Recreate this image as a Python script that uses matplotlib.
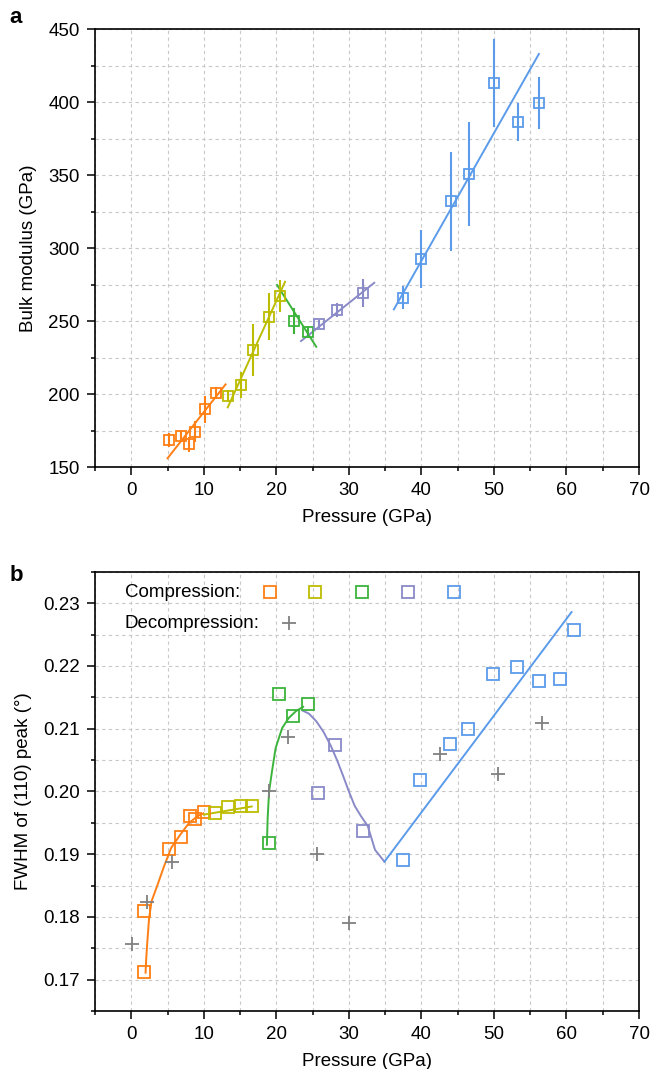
import matplotlib
matplotlib.use("Agg")
import matplotlib.pyplot as plt
from matplotlib.ticker import MultipleLocator, FormatStrFormatter

plt.rcParams['font.family'] = ['Liberation Sans', 'DejaVu Sans']

# ---------------- colours ----------------
C_OR = '#ff7f14'
C_YE = '#bcbc00'
C_GR = '#3cb43c'
C_PU = '#8a8ac8'
C_BL = '#5b9bea'
C_DE = '#808080'

# ---------------- panel a data ----------------
a_or_x = [5.2, 6.9, 8.0, 8.8, 10.1, 11.7]
a_or_y = [168.5, 171.2, 165.5, 174.2, 189.5, 200.5]
a_or_e = [5, 4, 5, 7, 9.5, 4]
a_or_fit_x = [5.0, 13.0]
a_or_fit_y = [156.0, 206.6]

a_ye_x = [13.3, 15.1, 16.8, 19.0, 20.5]
a_ye_y = [198.8, 206.2, 230.1, 253.0, 267.3]
a_ye_e = [4, 9, 18, 16, 11]
a_ye_fit_x = [13.3, 21.2]
a_ye_fit_y = [190.9, 276.9]

a_gr_x = [22.4, 24.4]
a_gr_y = [250.2, 242.7]
a_gr_e = [9, 4]
a_gr_fit_x = [20.1, 25.5]
a_gr_fit_y = [274.7, 232.4]

a_pu_x = [25.9, 28.3, 32.0]
a_pu_y = [248.0, 257.5, 269.0]
a_pu_e = [3, 5, 9.7]
a_pu_fit_x = [23.4, 33.5]
a_pu_fit_y = [236.3, 276.2]

a_bl_x = [37.5, 39.9, 44.1, 46.5, 50.0, 53.3, 56.2]
a_bl_y = [266.0, 292.5, 332.0, 350.6, 413.1, 386.2, 399.4]
a_bl_e = [8, 19.6, 34, 35.7, 30, 13, 18]
a_bl_fit_x = [36.2, 56.2]
a_bl_fit_y = [258.0, 433.0]

# ---------------- panel b data ----------------
b_or_x = [1.7, 1.7, 5.2, 6.9, 8.1, 8.8, 10.0]
b_or_y = [0.1712, 0.1809, 0.1909, 0.1928, 0.1961, 0.1956, 0.1967]
b_or_fit_x = [1.97, 2.07, 2.22, 2.46, 2.8, 3.65, 4.53, 5.5, 6.75, 7.98, 9.2, 9.95]
b_or_fit_y = [0.1711, 0.1735, 0.1761, 0.1798, 0.1825, 0.1852, 0.1881, 0.1910,
              0.1931, 0.1950, 0.1961, 0.1965]

b_ye_x = [11.5, 13.3, 15.1, 16.6]
b_ye_y = [0.1965, 0.1975, 0.1977, 0.1976]
b_ye_fit_x = [10.0, 16.6]
b_ye_fit_y = [0.1963, 0.1976]

b_gr_x = [19.0, 20.4, 22.3, 24.3]
b_gr_y = [0.1918, 0.2155, 0.2121, 0.2139]
b_gr_fit_x = [18.7, 18.8, 19.0, 19.4, 19.9, 20.8, 21.7, 22.7, 23.7]
b_gr_fit_y = [0.1915, 0.1957, 0.2000, 0.2032, 0.2069, 0.2101, 0.2117, 0.2128, 0.2135]

b_pu_x = [25.8, 28.1, 32.0]
b_pu_y = [0.1998, 0.2074, 0.1937]
b_pu_fit_x = [23.6, 24.5, 25.5, 26.5, 27.5, 28.4, 29.2, 30.0, 30.8, 31.7,
              32.6, 33.6, 34.9]
b_pu_fit_y = [0.2129, 0.2124, 0.2112, 0.2095, 0.2073, 0.2049, 0.2025, 0.2000,
              0.1977, 0.1960, 0.1945, 0.1907, 0.1888]

b_bl_x = [37.4, 39.8, 44.0, 46.4, 49.9, 53.2, 56.2, 59.1, 61.0]
b_bl_y = [0.1891, 0.2018, 0.2075, 0.2100, 0.2187, 0.2199, 0.2176, 0.2180, 0.2258]
b_bl_fit_x = [34.9, 60.7]
b_bl_fit_y = [0.1888, 0.2286]

b_de_x = [0.1, 2.2, 5.6, 19.0, 21.6, 25.6, 30.0, 42.6, 50.5, 56.6]
b_de_y = [0.1757, 0.1823, 0.1887, 0.2000, 0.2086, 0.1900, 0.1790, 0.2060, 0.2027, 0.2109]

# ---------------- figure ----------------
fig = plt.figure(figsize=(6.52, 10.69), dpi=100)
ax1 = fig.add_axes([0.1457, 0.5631, 0.8344, 0.4097])
ax2 = fig.add_axes([0.1457, 0.0543, 0.8344, 0.4107])

FS = 13.5
MS = 7.8
MEW = 1.3
LW = 1.4


def style(ax, ymaj, ymin):
    ax.set_xlim(-5, 70)
    ax.xaxis.set_major_locator(MultipleLocator(10))
    ax.xaxis.set_minor_locator(MultipleLocator(5))
    ax.yaxis.set_major_locator(MultipleLocator(ymaj))
    ax.yaxis.set_minor_locator(MultipleLocator(ymin))
    ax.tick_params(which='major', direction='out', length=6, width=1.1,
                   labelsize=FS, pad=5, top=False, right=False)
    ax.tick_params(which='minor', direction='out', length=3, width=1.1,
                   top=False, right=False)
    ax.grid(which='both', color='#c8c8c8', linestyle=(0, (3, 3)), linewidth=0.8)
    ax.set_axisbelow(True)
    for s in ax.spines.values():
        s.set_linewidth(1.2)
        s.set_color('black')
    ax.set_xlabel('Pressure (GPa)', fontsize=FS, labelpad=7)


# panel a
series_a = [
    (a_or_x, a_or_y, a_or_e, a_or_fit_x, a_or_fit_y, C_OR),
    (a_ye_x, a_ye_y, a_ye_e, a_ye_fit_x, a_ye_fit_y, C_YE),
    (a_gr_x, a_gr_y, a_gr_e, a_gr_fit_x, a_gr_fit_y, C_GR),
    (a_pu_x, a_pu_y, a_pu_e, a_pu_fit_x, a_pu_fit_y, C_PU),
    (a_bl_x, a_bl_y, a_bl_e, a_bl_fit_x, a_bl_fit_y, C_BL),
]
for x, y, e, fx, fy, c in series_a:
    ax1.errorbar(x, y, yerr=e, fmt='s', ms=MS, mfc='none', mec=c, mew=MEW,
                 ecolor=c, elinewidth=1.5, capsize=0, zorder=3)
    ax1.plot(fx, fy, color=c, lw=LW, zorder=2)

ax1.set_ylim(150, 450)
style(ax1, 50, 25)
ax1.set_ylabel('Bulk modulus (GPa)', fontsize=FS, labelpad=8)

# panel b
series_b = [
    (b_or_x, b_or_y, b_or_fit_x, b_or_fit_y, C_OR),
    (b_ye_x, b_ye_y, b_ye_fit_x, b_ye_fit_y, C_YE),
    (b_gr_x, b_gr_y, b_gr_fit_x, b_gr_fit_y, C_GR),
    (b_pu_x, b_pu_y, b_pu_fit_x, b_pu_fit_y, C_PU),
    (b_bl_x, b_bl_y, b_bl_fit_x, b_bl_fit_y, C_BL),
]
for x, y, fx, fy, c in series_b:
    ax2.plot(fx, fy, color=c, lw=LW, zorder=2)
    ax2.plot(x, y, 's', ms=MS + 0.4, mfc='none', mec=c, mew=MEW, zorder=3)
ax2.plot(b_de_x, b_de_y, '+', ms=9.5, mew=1.3, color=C_DE, zorder=3)

ax2.set_ylim(0.165, 0.235)
style(ax2, 0.01, 0.005)
ax2.yaxis.set_major_formatter(FormatStrFormatter('%.2f'))
ax2.set_ylabel('FWHM of (110) peak (°)', fontsize=FS, labelpad=8)

# legend in panel b (text + markers, axes-fraction positions)
ax2.text(0.055, 0.954, 'Compression:', transform=ax2.transAxes, fontsize=FS,
         ha='left', va='center')
ax2.text(0.055, 0.883, 'Decompression:', transform=ax2.transAxes, fontsize=FS,
         ha='left', va='center')
leg_cols = [C_OR, C_YE, C_GR, C_PU, C_BL]
leg_pos = [0.321, 0.405, 0.491, 0.575, 0.660]
for px, c in zip(leg_pos, leg_cols):
    ax2.plot([px], [0.954], 's', ms=MS + 0.4, mfc='none', mec=c, mew=MEW,
             transform=ax2.transAxes, clip_on=False)
ax2.plot([0.356], [0.883], '+', ms=9.5, mew=1.3, color=C_DE,
         transform=ax2.transAxes, clip_on=False)

# panel letters
fig.text(0.014, 0.984, 'a', fontsize=16, fontweight='bold', ha='left', va='center')
fig.text(0.014, 0.462, 'b', fontsize=16, fontweight='bold', ha='left', va='center')

fig.savefig('out.png', dpi=100)
